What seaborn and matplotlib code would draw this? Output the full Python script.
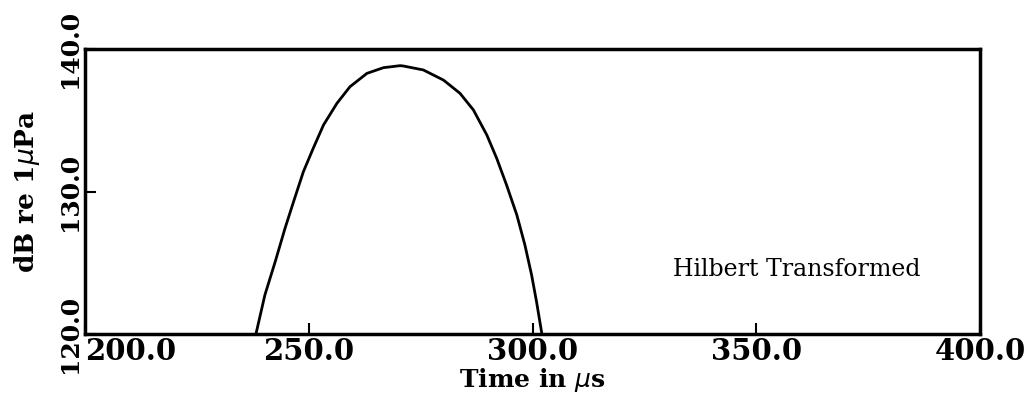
import numpy as np
import pandas as pd
import matplotlib
matplotlib.use("Agg")
import matplotlib.pyplot as plt
import seaborn as sns

# Envelope level after Hilbert transform
time_us = [238.2, 240.2, 242.5, 244.7, 246.6, 248.8, 251.0, 253.3, 256.3,
           259.2, 263.0, 266.7, 270.4, 271.1, 275.6, 280.1, 283.8, 286.8,
           289.8, 292.0, 294.2, 296.5, 298.3, 299.8, 300.9, 302.1]
level_db = [120.0, 122.74, 125.07, 127.42, 129.28, 131.39, 133.03, 134.67,
            136.19, 137.35, 138.29, 138.69, 138.83, 138.81, 138.53, 137.82,
            136.89, 135.72, 133.96, 132.33, 130.46, 128.35, 126.25, 124.14,
            122.27, 120.0]

x_ticks = [200.0, 250.0, 300.0, 350.0, 400.0]
y_ticks = [120.0, 130.0, 140.0]

df = pd.DataFrame({"t": time_us, "db": level_db})

sns.set_theme(style="ticks")
plt.rcParams["font.family"] = ["DejaVu Serif"]
plt.rcParams["text.color"] = "black"
plt.rcParams["axes.labelcolor"] = "black"
plt.rcParams["xtick.color"] = "black"
plt.rcParams["ytick.color"] = "black"

fig = plt.figure(figsize=(10.31, 3.96), dpi=100)
ax = fig.add_axes([85 / 1031, 1 - 334 / 396, 895 / 1031, 285 / 396])

sns.lineplot(data=df, x="t", y="db", ax=ax, color="black", linewidth=2.0,
             estimator=None, sort=False)

ax.set_xlim(200, 400)
ax.set_ylim(120, 140)
ax.set_xticks(x_ticks)
ax.set_yticks(y_ticks)
xlabels = ax.set_xticklabels([f"{v:.1f}" for v in x_ticks], fontsize=21,
                             fontweight="bold")
xlabels[0].set_horizontalalignment("left")
ax.set_yticklabels([f"{v:.1f}" for v in y_ticks], fontsize=18, fontweight="bold",
                   rotation=90, va="center")
ax.tick_params(axis="both", direction="in", length=8, width=1.5, color="black",
               top=False, right=False)
ax.tick_params(axis="x", pad=2)
ax.tick_params(axis="y", pad=2)

for s in ax.spines.values():
    s.set_visible(True)
    s.set_color("black")
    s.set_linewidth(2.5)

ax.set_xlabel(r"Time in $\mu$s", fontsize=18, fontweight="bold", labelpad=0)
ax.set_ylabel(r"dB re 1$\mu$Pa", fontsize=19, fontweight="bold", labelpad=12)

ax.text(331.5, 124.5, "Hilbert Transformed", fontsize=17, va="center", ha="left",
        color="black")

fig.savefig("out.png", dpi=100, facecolor="white")
